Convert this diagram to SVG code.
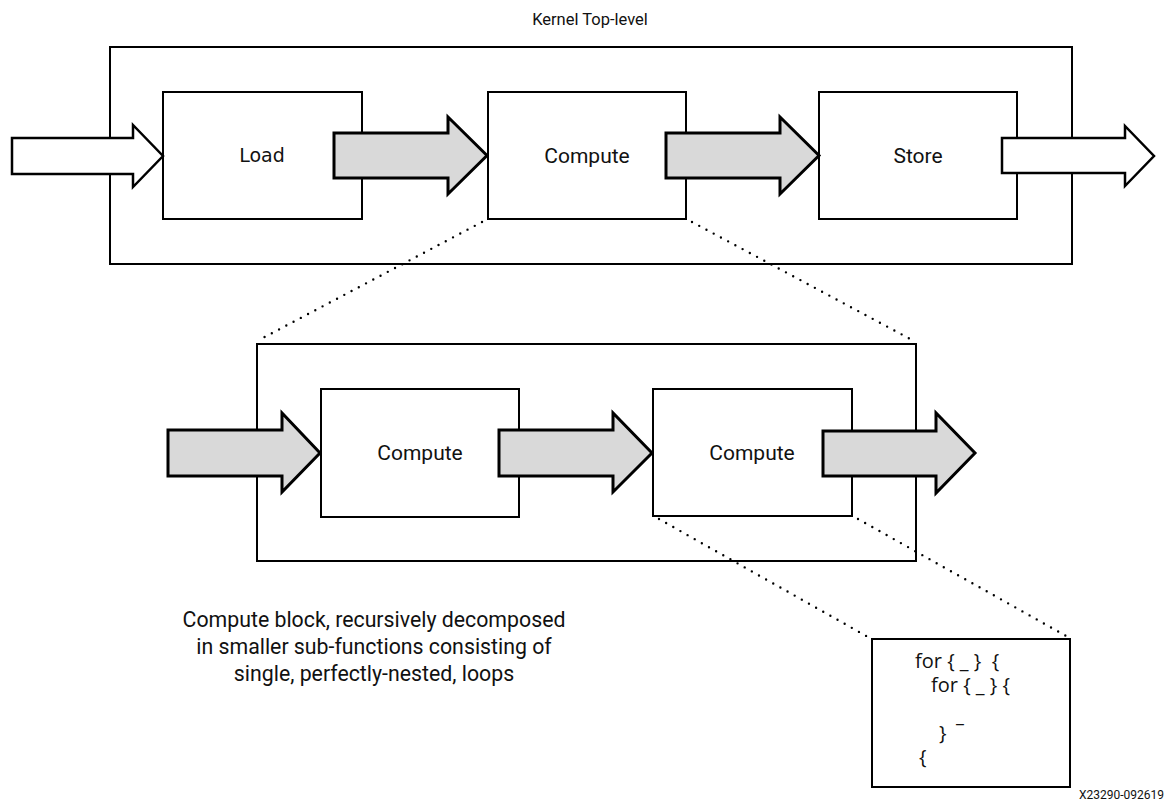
<svg xmlns="http://www.w3.org/2000/svg" width="1170" height="804" viewBox="0 0 1170 804">
<style>
.frame{fill:none;stroke:#000;stroke-width:2}
.box{fill:#fff;stroke:#000;stroke-width:2}
.garrow{fill:#d9d9d9;stroke:#000;stroke-width:3;stroke-linejoin:miter}
.warrow{fill:#fff;stroke:#000;stroke-width:2.5;stroke-linejoin:miter}
.dots{fill:none;stroke:#000;stroke-width:2.4;stroke-linecap:round;stroke-dasharray:0 8.2}
.lbl{font-family:Roboto,"Liberation Sans",sans-serif;font-size:21px;fill:#111;text-anchor:middle}
.cap{font-family:Roboto,"Liberation Sans",sans-serif;font-size:21.3px;fill:#111;text-anchor:middle}
.code{font-family:"Open Sans","Liberation Sans",sans-serif;font-size:20px;fill:#111;white-space:pre}
</style>
<rect width="1170" height="804" fill="#fff"/>
<text class="lbl" x="590" y="25" style="font-size:16.5px">Kernel Top-level</text>
<g id="kernel-top">
<rect class="frame" x="110" y="47" width="962" height="217"/>
</g>
<g id="compute-sub">
<rect class="frame" x="257" y="344" width="659" height="217"/>
</g>
<g id="load"><rect class="box" x="163" y="92" width="199" height="127"/><text class="lbl" x="262" y="162" style="font-family:'DejaVu Sans',sans-serif;font-size:19px">Load</text></g>
<g id="compute"><rect class="box" x="488" y="92" width="198" height="127"/><text class="lbl" x="587" y="163">Compute</text></g>
<g id="store"><rect class="box" x="819" y="92" width="198" height="127"/><text class="lbl" x="918" y="163">Store</text></g>
<g id="compute1"><rect class="box" x="321" y="389" width="198" height="128"/><text class="lbl" x="420" y="460">Compute</text></g>
<g id="compute2"><rect class="box" x="653" y="389" width="199" height="127"/><text class="lbl" x="752" y="460">Compute</text></g>
<g id="loops"><rect class="box" x="872" y="639" width="198" height="148"/>
<text class="code" x="915" y="668">for { _ }  {</text>
<text class="code" x="931" y="692">for { _ } {</text>
<text class="code" x="956" y="722" style="font-size:18px">_</text>
<text class="code" x="939" y="740">}</text>
<text class="code" x="919" y="764">{</text>
</g>
<g id="connectors">
<path class="warrow" d="M12,138 H133 V125 L163,156 L133,187 V174 H12 Z"/>
<path class="garrow" d="M334,133 H448 V117 L487,155.5 L448,194 V178 H334 Z"/>
<path class="garrow" d="M666,133 H780 V117 L819,155.5 L780,194 V178 H666 Z"/>
<path class="warrow" d="M1002,138 H1125 V126 L1154,156 L1125,186 V173 H1002 Z"/>
<path class="garrow" d="M168,430 H282 V413 L320,453 L282,492 V476 H168 Z"/>
<path class="garrow" d="M499,430 H613 V413 L652,453 L613,492 V476 H499 Z"/>
<path class="garrow" d="M823,431 H936 V413 L975,453 L936,493 V476 H823 Z"/>
<path class="dots" d="M482,222 L259,340"/>
<path class="dots" d="M692,222 L914,341"/>
<path class="dots" d="M659,519 L868,637"/>
<path class="dots" d="M858,519 L1068,637"/>
</g>
<g id="caption">
<text class="cap" x="374" y="627">Compute block, recursively decomposed</text>
<text class="cap" x="374" y="654">in smaller sub-functions consisting of</text>
<text class="cap" x="374" y="681">single, perfectly-nested, loops</text>
</g>
<text x="1164" y="799" style="font-family:Roboto,'Liberation Sans',sans-serif;font-size:12px;fill:#111;text-anchor:end">X23290-092619</text>
</svg>
